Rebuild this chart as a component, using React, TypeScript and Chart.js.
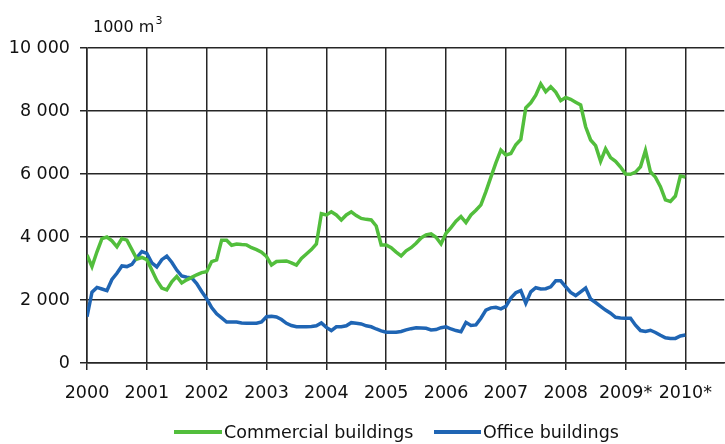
import React, { useEffect, useRef } from "react";
import { Chart, registerables } from "chart.js";

Chart.register(...registerables);

// Monthly values, Jan 2000 .. Jan 2010 (1000 m3)
const commercial: number[] = [
  3430, 3060, 3530, 3950, 4000, 3880, 3690, 3950, 3900, 3600, 3300, 3350,
  3280, 2950, 2620, 2380, 2320, 2580, 2750, 2540, 2640, 2720, 2800, 2870,
  2900, 3220, 3270, 3900, 3900, 3740, 3780, 3760, 3750, 3660, 3600, 3520,
  3380, 3110, 3220, 3230, 3240, 3180, 3110, 3320, 3460, 3600, 3780, 4740,
  4700, 4800, 4700, 4540, 4700, 4800, 4680, 4590, 4560, 4540, 4350, 3750,
  3750, 3660, 3520, 3400, 3560, 3660, 3800, 3970, 4070, 4100, 3990, 3780,
  4120, 4300, 4500, 4650, 4460, 4700, 4850, 5020, 5440, 5900, 6350, 6760,
  6600, 6650, 6930, 7100, 8100, 8260, 8500, 8860, 8610, 8770, 8600, 8330,
  8430, 8370, 8280, 8190, 7500, 7080, 6900, 6400, 6800, 6520, 6400, 6220,
  6000, 5990, 6060, 6230, 6750, 6070, 5900, 5600, 5180, 5130, 5300, 5940,
  5900,
];

const office: number[] = [
  1470, 2250, 2400, 2350, 2300, 2650, 2850, 3080, 3060, 3130, 3350, 3540,
  3480, 3180, 3050, 3280, 3390, 3200, 2950, 2760, 2720, 2700, 2520, 2270,
  2040, 1760, 1560, 1430, 1300, 1300, 1300, 1270, 1260, 1260, 1260, 1300,
  1470, 1480, 1460, 1380, 1260, 1190, 1150, 1150, 1150, 1160, 1180, 1270,
  1130, 1030, 1150, 1150, 1180, 1280, 1260, 1240, 1180, 1150, 1080, 1020,
  975, 975, 975, 1000, 1050, 1090, 1120, 1110, 1100, 1050, 1060, 1120,
  1150, 1080, 1030, 990, 1290, 1190, 1210, 1420, 1680, 1750, 1770, 1720,
  1800, 2060, 2230, 2300, 1900, 2260, 2390, 2350, 2360, 2420, 2610, 2610,
  2420, 2240, 2140, 2260, 2380, 2030, 1920, 1800, 1680, 1580, 1450, 1430,
  1420, 1420, 1200, 1030, 1000, 1040, 970, 880, 800, 780, 780, 860,
  890,
];

const yearLabels: string[] = [
  "2000", "2001", "2002", "2003", "2004", "2005", "2006", "2007", "2008", "2009*", "2010*",
];

const seriesNames: string[] = ["Commercial buildings", "Office buildings"];
const unitLabel = "1000 m";

const GREEN = "#52BE3C";
const BLUE = "#1F65B4";
const GRID = "#262626";
const FONT = '"DejaVu Sans", sans-serif';

export default function App() {
  const ref = useRef<HTMLCanvasElement | null>(null);

  useEffect(() => {
    if (!ref.current) return;

    const overlay = {
      id: "overlay",
      afterDraw(chart: any) {
        const ctx = chart.ctx;
        ctx.save();
        ctx.fillStyle = "#111";
        ctx.textBaseline = "alphabetic";
        ctx.textAlign = "left";
        ctx.font = `16px ${FONT}`;
        ctx.fillText(unitLabel, 93, 32);
        const w = ctx.measureText(unitLabel).width;
        ctx.font = `11px ${FONT}`;
        ctx.fillText("3", 93 + w + 1, 24);

        // legend
        ctx.lineWidth = 4;
        ctx.lineCap = "butt";
        ctx.font = `17.5px ${FONT}`;
        ctx.textBaseline = "middle";
        ctx.strokeStyle = GREEN;
        ctx.beginPath();
        ctx.moveTo(174, 432);
        ctx.lineTo(222, 432);
        ctx.stroke();
        ctx.fillText(seriesNames[0], 224, 433);
        ctx.strokeStyle = BLUE;
        ctx.beginPath();
        ctx.moveTo(434, 432);
        ctx.lineTo(481, 432);
        ctx.stroke();
        ctx.fillText(seriesNames[1], 483, 433);
        ctx.restore();
      },
    };

    const chart = new Chart(ref.current, {
      type: "line",
      data: {
        datasets: [
          {
            label: seriesNames[0],
            data: commercial.map((v, i) => ({ x: i, y: v })),
            borderColor: GREEN,
            backgroundColor: GREEN,
            borderWidth: 3.5,
            pointRadius: 0,
            tension: 0,
          },
          {
            label: seriesNames[1],
            data: office.map((v, i) => ({ x: i, y: v })),
            borderColor: BLUE,
            backgroundColor: BLUE,
            borderWidth: 3.5,
            pointRadius: 0,
            tension: 0,
          },
        ],
      },
      options: {
        responsive: false,
        animation: false,
        layout: { padding: { top: 48, right: 0, left: 0, bottom: 0 } },
        plugins: {
          legend: { display: false },
          tooltip: { enabled: false },
          title: { display: false },
        },
        scales: {
          x: {
            type: "linear",
            min: 0,
            max: 127.8,
            afterBuildTicks(scale: any) {
              scale.ticks = yearLabels.map((_, i) => ({ value: i * 12 }));
            },
            afterFit(scale: any) {
              scale.height = 81;
            },
            ticks: {
              stepSize: 12,
              autoSkip: false,
              maxRotation: 0,
              padding: 13,
              color: "#111",
              font: { family: FONT, size: 17.5 },
              callback: (v: any) => yearLabels[Math.round(Number(v) / 12)] ?? "",
            },
            grid: {
              color: GRID,
              lineWidth: 1.5,
              tickLength: 7,
              drawTicks: true,
            },
            border: { color: GRID, width: 1.5 },
          },
          y: {
            min: 0,
            max: 10000,
            afterFit(scale: any) {
              scale.width = 87;
            },
            ticks: {
              stepSize: 2000,
              padding: 10,
              color: "#111",
              font: { family: FONT, size: 17.5 },
              callback: (v: any) => {
                const n = Number(v);
                return n >= 1000
                  ? `${Math.floor(n / 1000)} ${String(n % 1000).padStart(3, "0")}`
                  : String(n);
              },
            },
            grid: {
              color: GRID,
              lineWidth: 1.5,
              tickLength: 7,
            },
            border: { color: GRID, width: 1.5 },
          },
        },
      },
      plugins: [overlay],
    } as any);

    return () => chart.destroy();
  }, []);

  return (
    <div style={{ position: "absolute", left: 0, top: 0, width: 725, height: 444, background: "#fff" }}>
      <canvas ref={ref} width={725} height={444} style={{ width: 725, height: 444, display: "block" }} />
    </div>
  );
}
